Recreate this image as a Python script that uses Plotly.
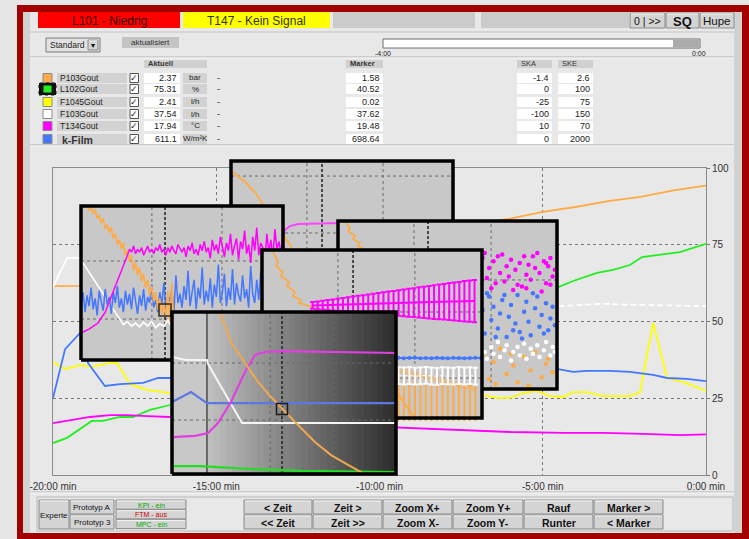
import plotly.graph_objects as go
import numpy as np

W, H = 749, 539
NARROW = "Liberation Sans Narrow, Arial Narrow, Liberation Sans, Arial, sans-serif"
SANS = "Liberation Sans, Arial, sans-serif"

# ---------------- header / table data ----------------
alarm_texts = ["L101 - Niedrig", "T147 - Kein Signal"]
signal_names = ["P103Gout", "L102Gout", "F1045Gout", "F103Gout", "T134Gout", "k-Film"]
signal_colors = ["#ffaa44", "#22ee22", "#ffff00", "#ffffff", "#ff00ff", "#4477ff"]
aktuell_vals = ["2.37", "75.31", "2.41", "37.54", "17.94", "611.1"]
units = ["bar", "%", "l/h", "l/h", "°C", "W/m²K"]
marker_vals = ["1.58", "40.52", "0.02", "37.62", "19.48", "698.64"]
ska_vals = ["-1.4", "0", "-25", "-100", "10", "0"]
ske_vals = ["2.6", "100", "75", "150", "70", "2000"]
btn_row1 = ["< Zeit", "Zeit >", "Zoom X+", "Zoom Y+", "Rauf", "Marker >"]
btn_row2 = ["<< Zeit", "Zeit >>", "Zoom X-", "Zoom Y-", "Runter", "< Marker"]
mode_labels = ["KPI - ein", "FTM - aus", "MPC - ein"]
mode_colors = ["#00aa00", "#cc0000", "#00aa00"]
x_tickvals = [-20, -15, -10, -5, 0]
x_ticktext = ["-20:00 min", "-15:00 min", "-10:00 min", "-5:00 min", "0:00 min"]
y_tickvals = [0, 25, 50, 75, 100]
y_ticktext = ["0", "25", "50", "75", "100"]

# ---------------- main trend (minutes, % of scale) ----------------
orange_t = [-20, -19.2, -18, -16, -14, -12, -10, -8, -6, -5, -4, -3, -2, -1, 0]
orange_v = [61.5, 61.6, 63, 66, 70, 74, 77, 80.5, 83.5, 85.7, 87.3, 89.2, 90.6, 92.7, 94.25]
green_t = [-20, -19.57, -18.81, -18.47, -17.95, -17.55, -17.03, -16.42, -15, -12, -9, -7, -5.5,
           -4.53, -4.07, -3.34, -2.85, -2.33, -1.96, -0.80, 0]
green_v = [10.4, 12.1, 17.6, 17.6, 18.9, 18.9, 21.2, 22.8, 27, 36, 46, 53, 58.5,
           61.2, 63.2, 65.8, 66.8, 68.4, 71.0, 72.6, 75.31]
yellow_t = [-20, -19.63, -19.17, -18.81, -18.25, -18.04, -17.64, -17.12, -16.42, -12, -9,
            -6.83, -6.40, -6.00, -5.60, -5.18, -4.78, -4.38, -4.07, -3.64, -3.15, -2.33,
            -2.02, -1.62, -1.19, -0.70, 0]
yellow_v = [36.8, 34.5, 35.8, 35.2, 36.5, 36.5, 29.6, 27.7, 26.7, 25.5, 24.5,
            26.1, 25.1, 25.1, 26.7, 27.4, 25.7, 25.4, 27.0, 27.0, 25.7, 25.7,
            27.0, 49.5, 31.6, 30.3, 27.41]
blue_t = [-20, -19.63, -19.23, -19.08, -18.93, -18.41, -17.95, -17.24, -16.78, -16.42, -12, -9,
          -4.53, -4.07, -3.64, -2.94, -2.33, -1.62, -1.19, -0.58, 0]
blue_v = [25.1, 41.0, 45.6, 47.2, 36.5, 29.0, 29.6, 30.0, 31.6, 31.6, 33, 35,
          34.5, 33.6, 33.9, 33.9, 33.6, 32.6, 31.6, 31.3, 30.56]
white_t = [-20, -19.57, -19.2, -18, -15, -10, -4.53, -3.15, -2.54, -1.5, 0]
white_v = [61.2, 70.7, 70.7, 62, 58, 56, 55.0, 55.8, 55.5, 55.3, 55.02]
white_split = 3
mag_t = [-20, -19.48, -18.87, -18.25, -17.73, -17.12, -16.42, -13, -9.46, -7.9, -5.97,
         -4.35, -3.15, -1.93, -0.80, 0]
mag_v = [16.9, 17.9, 18.9, 19.5, 19.5, 19.2, 18.9, 17, 15.6, 15.0, 14.0,
         13.7, 13.7, 13.4, 13.0, 13.23]

# ---------------- inset views (local units 0..100) ----------------
A_or_u = [0.9, 6.3, 10.8, 14.0, 19.8, 26.6, 31.1]
A_or_v = [89.1, 79.2, 69.3, 58.4, 39.6, 16.8, 0]
A_mag_u = [21.5, 22.5, 24.3, 26.6, 30.2, 49.1, 100]
A_mag_v = [5, 16.8, 31.7, 35.6, 37.6, 38.6, 39.6]

B_or_u = list(range(3, 49))
B_or_v = [100, 97, 99, 95, 98, 92, 94, 89, 92, 85, 88, 83, 86, 79, 82, 75, 78, 72, 76, 68,
          71, 64, 68, 58, 63, 55, 60, 51, 56, 47, 52, 42, 48, 38, 44, 33, 40, 30, 37, 28,
          45, 25, 50, 22, 30, 20]
B_blue_u = list(range(0, 101))
B_blue_v = [36, 44, 31, 42, 35, 47, 33, 40, 29, 45,
            38, 32, 46, 36, 41, 30, 44, 37, 48, 34,
            40, 31, 45, 36, 43, 33, 47, 38, 30, 42,
            35, 46, 32, 41, 37, 49, 34, 39, 31, 44,
            36, 50, 33, 42, 38, 46, 31, 55, 37, 43,
            34, 48, 39, 58, 35, 44, 52, 33, 47, 40,
            60, 36, 45, 38, 53, 34, 49, 41, 62, 37,
            44, 56, 35, 47, 39, 59, 36, 50, 42, 38,
            55, 40, 46, 34, 61, 43, 37, 52, 39, 58,
            41, 36, 54, 45, 38, 60, 42, 49, 37, 51,
            44]
B_mag_u = [0, 4, 8.4, 12, 14.9, 17.5, 19.8, 21.5] + list(range(23, 101))
B_mag_v = [17.5, 20, 24, 31, 40.9, 50, 58.4, 63,
           68, 72, 70, 74, 69, 72, 70, 73, 68, 71,
           74, 70, 72, 69, 73, 71, 75, 70, 72, 68,
           73, 70, 74, 71, 69, 75, 72, 70, 73, 67,
           74, 71, 76, 69, 72, 68, 75, 71, 77, 70,
           73, 66, 78, 71, 75, 69, 80, 72, 67, 76,
           71, 82, 68, 74, 79, 65, 77, 72, 84, 69,
           75, 63, 80, 71, 86, 68, 76, 73, 64, 82,
           70, 78, 66, 85, 72, 77, 69, 81]
B_white_u = [0, 19.8, 21, 23, 25, 27, 29, 31, 33, 35, 37, 39, 41, 43, 45, 48]
B_white_v = [64.9, 24.7, 23, 25, 22, 24, 21.5, 24.5, 22, 25, 21, 23.5, 22, 26, 21, 23]
B_mark = (41.6, 32.5)

C_or_line_u = [3.2, 5.5, 4.6, 7.8, 6.8, 10.0, 9.1, 12.8, 15.5, 21.5, 28.3, 37.4]
C_or_line_v = [100, 95.8, 94.0, 91.1, 89.3, 86.9, 85.1, 82.7, 79.8, 67.9, 53.0, 35.1]
C_mag_u = [63, 65, 66, 68, 69, 71, 72, 74, 75, 77, 78, 79, 81, 82, 83, 85, 86, 87, 88, 90,
           91, 92, 94, 95, 96, 97, 98, 99, 64, 70, 76, 80, 84, 89, 93, 97, 67, 73, 86, 95]
C_mag_v = [74, 70, 78, 66, 72, 76, 63, 69, 80, 73, 67, 77, 71, 62, 75, 79, 68, 74, 65, 72,
           81, 69, 76, 63, 73, 78, 67, 71, 66, 60, 64, 59, 61, 79, 58, 62, 81, 79, 60, 75]
C_blue_u = [62, 63, 65, 66, 67, 69, 70, 71, 73, 74, 75, 77, 78, 79, 81, 82, 83, 85, 86, 87,
            88, 90, 91, 92, 93, 95, 96, 97, 98, 99, 64, 68, 72, 76, 80, 84, 89, 94]
C_blue_v = [44, 52, 38, 47, 33, 55, 41, 49, 36, 45, 53, 31, 43, 50, 39, 56, 34, 46, 52, 40,
            32, 48, 55, 37, 44, 51, 35, 42, 49, 38, 30, 57, 31, 56, 35, 30, 57, 33]
C_white_u = [62, 64, 65, 67, 68, 70, 71, 73, 74, 76, 77, 79, 80, 82, 83, 85, 86, 88, 89, 91,
             92, 94, 95, 97, 98, 99]
C_white_v = [24, 20, 27, 22, 18, 25, 21, 28, 19, 23, 26, 17, 22, 25, 20, 27, 18, 24, 21, 26,
             19, 23, 28, 20, 25, 22]
C_or_u = [63, 66, 69, 71, 74, 77, 80, 82, 85, 88, 90, 93, 95, 98, 65, 72, 79, 87, 96]
C_or_v = [12, 20, 6, 16, 24, 9, 14, 4, 19, 11, 22, 7, 15, 10, 25, 3, 21, 2, 18]

D_or_line_u = [5.0, 7.3, 6.4, 9.5, 8.6, 12.3, 11.4, 15.0, 14.1, 17.7, 16.8, 20.9, 22.7,
               35.5, 49.1, 61.4, 69.5]
D_or_line_v = [98.8, 92.9, 90.5, 86.9, 84.5, 81.0, 78.6, 75.0, 72.6, 70.2, 68.5, 66.7, 66.1,
               43.5, 25.6, 14.9, 0]
D_mag_u = [23, 25.3, 27.6, 29.9, 32.2, 34.5, 36.8, 39.1, 41.4, 43.7, 46, 48.3, 50.6, 52.9,
           55.2, 57.5, 59.8, 62.1, 64.4, 66.7, 69, 71.3, 73.6, 75.9, 78.2, 80.5, 82.8, 85.1,
           87.4, 89.7, 92, 94.3, 96.6]
D_mag_v = [67.0, 67.1, 67.2, 67.3, 67.3, 67.4, 67.5, 67.6, 67.7, 67.8, 67.8, 67.9, 68.0, 68.1,
           68.2, 68.3, 68.3, 68.4, 68.5, 68.6, 68.7, 68.8, 68.8, 68.9, 69.0, 69.1, 69.2, 69.3,
           69.3, 69.4, 69.5, 69.6, 69.6]
D_mag_err = [2.0, 2.3, 2.6, 3.0, 3.3, 3.6, 4.0, 4.3, 4.6, 5.0, 5.3, 5.6, 6.0, 6.3, 6.6, 7.0,
             7.3, 7.6, 8.0, 8.3, 8.6, 9.0, 9.3, 9.6, 10.0, 10.3, 10.6, 11.0, 11.3, 11.6, 12.0,
             12.3, 12.6]
D_bar_u = [62, 64.5, 67, 69.5, 72, 74.5, 77, 79.5, 82, 84.5, 87, 89.5, 92, 94.5, 97]
D_or_v = [28, 27, 26.5, 25.5, 24.5, 24, 23, 22, 21.5, 20.5, 19.5, 19, 18, 17.5, 16.5]
D_white_v = [25.2, 25.0, 25.3, 24.9, 25.1, 25.4, 25.0, 24.8, 25.2, 25.1, 24.9, 25.3, 25.0,
             25.2, 24.9]
D_blue_u = [52, 54.5, 57, 59.5, 62, 64.5, 67, 69.5, 72, 74.5, 77, 79.5, 82, 84.5, 87, 89.5,
            92, 94.5, 97, 99.5]
D_blue_v = [35.5, 35.8, 35.6, 35.7, 35.9, 35.6, 35.7, 35.8, 35.6, 35.7, 35.5, 35.8, 35.7,
            35.6, 35.8, 35.7, 35.6, 35.7, 35.8, 35.7]

E_white_u = [0, 6.25, 15.6, 16.1, 31.25, 100]
E_white_v = [72.2, 70.4, 70.4, 67.9, 31.5, 31.5]
E_blue_u = [0, 8.5, 15.6, 100]
E_blue_v = [44.4, 50.6, 43.8, 43.8]
E_mag_u = [0, 10.3, 16.1, 20.5, 26.3, 32.6, 37.1, 41.5, 48.7, 75, 100]
E_mag_v = [22.8, 23.5, 25.3, 31.5, 44.4, 63.0, 73.5, 75.3, 75.9, 75.3, 74.7]
E_or_u = [21.4, 26.3, 32.6, 38.4, 44.2, 49.6, 56.3, 63.8, 71.0, 78.6, 84.4, 86.6]
E_or_v = [100, 81.5, 68.5, 56.8, 47.5, 39.5, 30.2, 19.8, 11.7, 5.6, 1.2, -1.2]
E_green_u = [0, 12.9, 20.5, 35.3, 57.6, 100]
E_green_v = [4.9, 4.9, 4.3, 3.1, 1.9, 1.2]
E_mark = (49.1, 40.1)

# ---------------- helpers ----------------
shapes, annotations, traces = [], [], []


def px(x):
    return x / W


def py(y):
    return 1 - y / H


def rect(x0, y0, x1, y1, fill, lc=None, lw=0, dash=None):
    ln = dict(width=lw, color=lc or "rgba(0,0,0,0)")
    if dash:
        ln["dash"] = dash
    shapes.append(dict(type="rect", xref="paper", yref="paper", x0=px(x0), x1=px(x1),
                       y0=py(y1), y1=py(y0), fillcolor=fill, line=ln, layer="below"))


def hline(x0, x1, y, color, lw=1):
    shapes.append(dict(type="line", xref="paper", yref="paper", x0=px(x0), x1=px(x1),
                       y0=py(y), y1=py(y), line=dict(color=color, width=lw), layer="below"))


def label(x, y, s, size=9, color="#222", anchor="left", family=NARROW, bold=False):
    if bold:
        s = "<b>" + s + "</b>"
    annotations.append(dict(xref="paper", yref="paper", x=px(x), y=py(y), text=s,
                            showarrow=False, xanchor=anchor, yanchor="middle",
                            font=dict(size=size, color=color, family=family)))


def button(x0, y0, x1, y1, text, size=11, bold=True, color="#111", fill="#d4d4d4"):
    rect(x0, y0, x1, y1, fill, "#8a8a8a", 1)
    hline(x0 + 1, x1 - 1, y0 + 1, "#f4f4f4", 1)
    label((x0 + x1) / 2, (y0 + y1) / 2 + 0.5, text, size=size, color=color,
          anchor="center", bold=bold)


# ---------------- page frame ----------------
rect(17, 5, 760, 545, "#a30000")
rect(23, 12, 742, 533, "#d2d2d2")
rect(30, 12, 734, 533, "#e8e8e8")

# top alarm bar
rect(38, 12, 180, 28, "#ff0000")
label(109, 20.5, alarm_texts[0], size=12, color="#3a0000", anchor="center")
rect(183, 12, 330, 28, "#ffff00")
label(256, 20.5, alarm_texts[1], size=12, color="#333300", anchor="center")
rect(333, 12, 475, 28, "#cbcbcb")
rect(481, 12, 629, 28, "#cbcbcb")
button(630, 13, 665, 28, "0 | >>", size=10.5, bold=False)
button(666, 13, 699, 28, "SQ", size=13, bold=True)
button(700, 13, 734, 28, "Hupe", size=11.5, bold=False)
hline(30, 734, 32, "#c4c4c4")

# second row
rect(46, 38, 100, 52, "#e2e2e2", "#7a7a7a", 1)
label(48, 45.5, "Standard", size=8.5)
button(88, 40, 98, 50, "▾", size=8, bold=False)
rect(122, 37, 179, 48, "#c4c4c4")
label(150.5, 42.5, "aktualisiert", size=8, color="#333", anchor="center")
rect(383, 39, 700, 48, "#ffffff", "#6e6e6e", 1)
rect(673, 39.5, 699.5, 47.5, "#ababab")
label(383, 53.5, "-4:00", size=7, anchor="center")
label(699, 53.5, "0:00", size=7, anchor="center")
hline(30, 734, 57, "#b4b4b4")
hline(30, 734, 58, "#f6f6f6")

# table
rect(144, 60, 207, 68, "#d0d0d0")
label(146, 64, "Aktuell", size=7.5, color="#333", bold=True)
rect(346, 60, 383, 68, "#d0d0d0")
label(348, 64, "Marker", size=7.5, color="#333", bold=True)
rect(517, 60, 552, 68, "#d0d0d0")
label(519, 64, "SKA", size=7.5, color="#333")
rect(558, 60, 593, 68, "#d0d0d0")
label(560, 64, "SKE", size=7.5, color="#333")
row_y = [78, 89, 102, 114, 126, 139]
for i, c in enumerate(row_y):
    if i == 1:
        rect(39, c - 6, 56, c + 6, "#111111", "#111111", 1, dash="dot")
        rect(43.5, c - 3.5, 51.5, c + 3.5, signal_colors[i])
    else:
        rect(43, c - 4.5, 52, c + 4.5, signal_colors[i], "#8c8c8c", 1)
    rect(57, c - 5, 127, c + 5, "#d2d2d2")
    if signal_names[i] == "k-Film":
        label(60, c + 1, signal_names[i], size=10.5, color="#333", family=SANS, bold=True)
    else:
        label(58, c, signal_names[i], size=8.5, color="#222")
    rect(130, c - 4.5, 138.5, c + 4.5, "#ffffff", "#555", 1)
    label(134.3, c, "✓", size=9, color="#222", anchor="center", family="DejaVu Sans")
    rect(144, c - 5, 180, c + 5, "#ffffff")
    label(179, c, aktuell_vals[i], size=9, anchor="right")
    rect(183, c - 5, 207, c + 5, "#d2d2d2")
    label(195, c, units[i], size=8, anchor="center")
    label(218, c, "-", size=9, anchor="center")
    rect(346, c - 5, 383, c + 5, "#ffffff")
    label(382, c, marker_vals[i], size=9, anchor="right")
    rect(517, c - 5, 552, c + 5, "#ffffff")
    label(551, c, ska_vals[i], size=9, anchor="right")
    rect(558, c - 5, 593, c + 5, "#ffffff")
    label(592, c, ske_vals[i], size=9, anchor="right")
hline(30, 734, 145, "#b0b0b0")
hline(30, 734, 146, "#f8f8f8")
hline(30, 734, 492, "#b0b0b0")
hline(30, 734, 493, "#f8f8f8")

# bottom buttons
rect(37, 497, 733, 531, "rgba(0,0,0,0)", "#b8b8b8", 1)
button(39, 500, 69, 529, "Experte", size=8, bold=False)
button(70, 500, 114, 514, "Prototyp A", size=8, bold=False)
button(70, 515, 114, 529, "Prototyp 3", size=8, bold=False)
for k, lab in enumerate(mode_labels):
    y0 = 500 + k * 9.7
    button(116, y0, 186, y0 + 9.2, lab, size=7, bold=False, color=mode_colors[k])
bx = [244, 313, 383, 453, 524, 594, 664]
for k in range(6):
    button(bx[k], 500, bx[k + 1] - 1, 514, btn_row1[k], size=10.5)
    button(bx[k], 515, bx[k + 1] - 1, 529, btn_row2[k], size=10.5)

# ---------------- charts ----------------
def sc(x, y, color, n=1, width=1.8, dash=None, mode="lines", **kw):
    ax = "" if n == 1 else str(n)
    ln = dict(color=color, width=width)
    if dash:
        ln["dash"] = dash
    t = go.Scatter(x=x, y=y, mode=mode, line=ln, xaxis="x" + ax, yaxis="y" + ax,
                   hoverinfo="skip", showlegend=False, **kw)
    traces.append(t)


# main chart
sc(orange_t, orange_v, "#ffaa44")
sc(green_t, green_v, "#22ee22")
sc(yellow_t, yellow_v, "#ffff00")
sc(mag_t, mag_v, "#ff00ff")
sc(white_t[:white_split + 1], white_v[:white_split + 1], "#ffffff")
sc(white_t[white_split:], white_v[white_split:], "#ffffff", dash="6px,3px")
sc(blue_t, blue_v, "#4477ff")

boxes = {2: (231, 161, 453, 262), 3: (81, 206, 283, 360), 4: (338, 221, 557, 389),
         5: (262, 250, 482, 418), 6: (172, 312, 396, 474)}
PAD = 3
axes_layout = {}
for n, (x0, y0, x1, y1) in boxes.items():
    bw, bh = x1 - x0, y1 - y0
    pu, pv = PAD / bw * 100, PAD / bh * 100
    axes_layout["xaxis%d" % n] = dict(domain=[(x0 - PAD) / W, (x1 + PAD) / W],
                                      range=[-pu, 100 + pu], visible=False,
                                      anchor="y%d" % n, fixedrange=True)
    axes_layout["yaxis%d" % n] = dict(domain=[1 - (y1 + PAD) / H, 1 - (y0 - PAD) / H],
                                      range=[-pv, 100 + pv], visible=False,
                                      anchor="x%d" % n, fixedrange=True)

RX = [0, 100, 100, 0, 0]
RY = [0, 0, 100, 100, 0]


def bg(n, color="#c8c8c8"):
    sc(RX, RY, color, n=n, width=0, fill="toself", fillcolor=color)


def grid(n, vdot, vdash, hdot, vsolid=()):
    def segs(vals, vertical):
        xs, ys = [], []
        for v in vals:
            if vertical:
                xs += [v, v, None]
                ys += [0, 100, None]
            else:
                xs += [0, 100, None]
                ys += [v, v, None]
        return xs, ys
    if vsolid:
        xs, ys = segs(vsolid, True)
        sc(xs, ys, "#4a4a4a", n=n, width=1.5)
    xs, ys = segs(vdot, True)
    x2, y2 = segs(hdot, False)
    sc(xs + x2, ys + y2, "#6a6a6a", n=n, width=1, dash="dot")
    xs, ys = segs(vdash, True)
    sc(xs, ys, "#2a2a2a", n=n, width=1.6, dash="3px,2px")


def border(n):
    sc(RX, RY, "#000000", n=n, width=3.5)


# inset A
bg(2)
grid(2, [34.2, 68.5], [41.0], [85.1, 28.7])
sc(A_or_u, A_or_v, "#ffaa44", n=2, width=1.8)
sc(A_mag_u, A_mag_v, "#ff44ff", n=2, width=1.8)
border(2)

# inset B
bg(3)
grid(3, [35.1, 69.8], [41.6], [64.3, 26.6])
sc(B_white_u, B_white_v, "#ffffff", n=3, width=1.6)
sc(B_blue_u, B_blue_v, "#4477ff", n=3, width=1.5)
sc(B_or_u, B_or_v, "#ffaa44", n=3, width=1.6)
sc(B_mag_u, B_mag_v, "#ff00ff", n=3, width=1.5)
sc([B_mark[0]], [B_mark[1]], "#333", n=3, mode="markers",
   marker=dict(symbol="square-open", size=12, color="#3a2a10", line=dict(width=1.5)))
border(3)

# inset C
bg(4)
grid(4, [34.7, 69.9], [41.1], [64.9])
sc(C_or_line_u, C_or_line_v, "#ffaa44", n=4, width=1.8)
sc(C_or_u, C_or_v, "#ffaa44", n=4, mode="markers", marker=dict(size=4.5, color="#ffaa44"))
sc(C_white_u, C_white_v, "#ffffff", n=4, mode="markers", marker=dict(size=4.5, color="#ffffff"))
sc(C_blue_u, C_blue_v, "#4477ff", n=4, mode="markers", marker=dict(size=4.5, color="#4477ff"))
sc(C_mag_u, C_mag_v, "#ff00ff", n=4, mode="markers", marker=dict(size=4.5, color="#ff00ff"))
border(4)

# inset D
bg(5)
grid(5, [34.5, 69.5], [41.4], [63.1, 23.8])
sc(D_or_line_u, D_or_line_v, "#ffaa44", n=5, width=1.8)
sc(D_bar_u, D_or_v, "#ffaa44", n=5, width=1, mode="lines",
   error_y=dict(type="constant", symmetric=False, value=1.5, valueminus=35,
                color="#ffaa44", thickness=2, width=2))
sc(D_bar_u, D_white_v, "#ffffff", n=5, width=1, dash="dot",
   error_y=dict(type="constant", value=5, color="#ffffff", thickness=2, width=2.5))
sc(D_blue_u, D_blue_v, "#4477ff", n=5, width=2, mode="lines+markers",
   marker=dict(size=4, color="#4477ff"))
sc(D_mag_u, D_mag_v, "#ff00ff", n=5, width=2,
   error_y=dict(type="data", array=D_mag_err, color="#ff00ff", thickness=2, width=2.5))
border(5)

# inset E (gradient background)
e_edges = [0] + list(np.linspace(15.6, 100, 31))
e_gray = [200] + list(np.linspace(190, 46, 30))
traces.append(go.Heatmap(x=e_edges, y=[0, 100], z=[e_gray], zmin=0, zmax=255,
                         colorscale=[[0, "rgb(0,0,0)"], [1, "rgb(255,255,255)"]],
                         showscale=False, hoverinfo="skip", xaxis="x6", yaxis="y6"))
grid(6, [43.8, 72.3], [49.1], [68.5, 33.3], vsolid=[15.6])
sc(E_green_u, E_green_v, "#22dd22", n=6, width=2.2)
sc(E_white_u, E_white_v, "#f4f4f4", n=6, width=2)
sc(E_blue_u, E_blue_v, "#5a7ae0", n=6, width=2.2)
sc(E_mag_u, E_mag_v, "#e040e0", n=6, width=2.2)
sc(E_or_u, E_or_v, "#f0a850", n=6, width=2)
sc([E_mark[0]], [E_mark[1]], "#222", n=6, mode="markers",
   marker=dict(symbol="square-open", size=11, color="#1a1a1a", line=dict(width=1.5)))
border(6)

fig = go.Figure(data=traces)
fig.update_layout(
    width=W, height=H, margin=dict(l=0, r=0, t=0, b=0, pad=0, autoexpand=False),
    paper_bgcolor="#e6e6e6", plot_bgcolor="rgba(0,0,0,0)", showlegend=False,
    shapes=shapes, annotations=annotations,
    xaxis=dict(domain=[53 / W, 706 / W], range=[-20, 0], tickvals=x_tickvals,
               ticktext=x_ticktext, showgrid=True, gridcolor="#7a7a7a", griddash="dot",
               gridwidth=1, showline=True, linecolor="#8c8c8c", linewidth=1, mirror=True,
               ticks="outside", ticklen=2, tickcolor="rgba(0,0,0,0)",
               zeroline=False, fixedrange=True, automargin=False,
               tickfont=dict(size=10, color="#333", family=SANS)),
    yaxis=dict(domain=[1 - 475 / H, 1 - 168 / H], range=[0, 100], side="right",
               tickvals=y_tickvals, ticktext=y_ticktext, showgrid=True,
               gridcolor="#7a7a7a", griddash="dot", gridwidth=1, showline=True,
               linecolor="#8c8c8c", linewidth=1, mirror=True, ticks="outside", ticklen=3,
               tickcolor="#777", zeroline=False, fixedrange=True, automargin=False,
               tickfont=dict(size=10, color="#333", family=SANS)),
    **axes_layout,
)
fig.write_html("out.html")
